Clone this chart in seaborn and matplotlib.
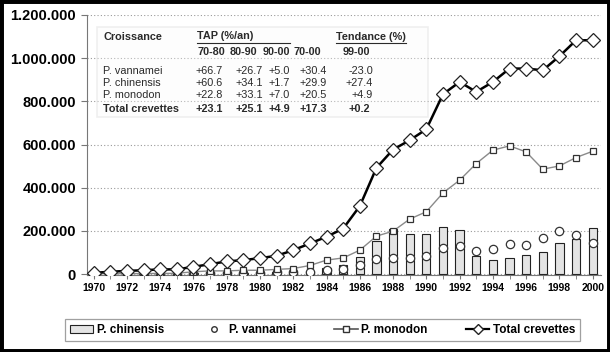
import numpy as np
import pandas as pd
import seaborn as sns
import matplotlib.pyplot as plt
from matplotlib.patches import Rectangle, Patch
from matplotlib.lines import Line2D
from matplotlib.ticker import FuncFormatter, MultipleLocator

years = list(range(1970, 2001))

# production (t)
chinensis = [2000, 2000, 2000, 3000, 3000, 3000, 4000, 5000, 6000, 7000, 8000, 9000, 10000, 15000, 30000,
             40000, 80000, 153000, 208000, 184000, 184000, 219000, 204000, 83000, 65000,
             77000, 88000, 103000, 142000, 165000, 214000]
vannamei = [1000, 1000, 1000, 1000, 2000, 2000, 3000, 4000, 5000, 6000, 7000, 8000, 10000, 12000, 18000,
            26000, 42000, 68000, 73000, 73000, 85000, 119000, 130000, 108000, 117000,
            139000, 136000, 167000, 199000, 181000, 142000]
monodon = [2000, 2000, 2000, 3000, 3000, 4000, 11000, 15000, 15000, 18000, 18000, 22000, 26000, 40000, 65000,
           75000, 111000, 176000, 199000, 255000, 289000, 376000, 435000, 512000, 574000,
           594000, 566000, 486000, 501000, 540000, 569000]
total = [6000, 11000, 15000, 18000, 22000, 22000, 34000, 46000, 59000, 65000, 74000, 85000, 111000, 142000, 173000,
         211000, 315000, 492000, 577000, 620000, 671000, 833000, 890000, 844000, 890000,
         952000, 952000, 944000, 1009000, 1083000, 1083000]

# growth table
table_species = ['P. vannamei', 'P. chinensis', 'P. monodon', 'Total crevettes']
table_periods = ['70-80', '80-90', '90-00', '70-00']
table_trend_period = '99-00'
table_tap = [['+66.7', '+26.7', '+5.0', '+30.4'],
             ['+60.6', '+34.1', '+1.7', '+29.9'],
             ['+22.8', '+33.1', '+7.0', '+20.5'],
             ['+23.1', '+25.1', '+4.9', '+17.3']]
table_trend = ['-23.0', '+27.4', '+4.9', '+0.2']

df = pd.DataFrame({'year': years, 'chinensis': chinensis, 'vannamei': vannamei,
                   'monodon': monodon, 'total': total})

W, H = 610, 352
fig = plt.figure(figsize=(W / 100, H / 100), dpi=100)
plt.rcParams['font.family'] = ['Liberation Sans', 'DejaVu Sans']

def px(x, y):
    return x / W, 1 - y / H

ax = fig.add_axes([87 / W, 1 - 275 / H, 514 / W, 260 / H])

sns.barplot(data=df, x='year', y='chinensis', native_scale=True, width=0.5, color='#e4e4e4',
            edgecolor='#222222', linewidth=0.8, errorbar=None, ax=ax, zorder=2)
sns.scatterplot(data=df, x='year', y='vannamei', marker='o', s=36, facecolor='white',
                edgecolor='#333333', linewidth=0.9, ax=ax, zorder=3)
sns.lineplot(data=df, x='year', y='monodon', color='#8a8a8a', lw=1.0, marker='s', markersize=5,
             markerfacecolor='white', markeredgecolor='#333333', markeredgewidth=0.9, ax=ax, zorder=4)
sns.lineplot(data=df, x='year', y='total', color='black', lw=1.8, marker='D', markersize=7,
             markerfacecolor='white', markeredgecolor='#222222', markeredgewidth=0.9, ax=ax, zorder=5)

ax.set_xlim(1969.6, 2000.5)
ax.set_ylim(-4000, 1200000)
ax.yaxis.set_major_locator(MultipleLocator(200000))
ax.yaxis.set_major_formatter(FuncFormatter(lambda v, p: f'{v:,.0f}'.replace(',', '.')))
ax.xaxis.set_major_locator(MultipleLocator(2))
ax.xaxis.set_minor_locator(MultipleLocator(1))
ax.xaxis.set_major_formatter(FuncFormatter(lambda v, p: f'{int(v)}'))
ax.set_xlabel('')
ax.set_ylabel('')
ax.grid(axis='y', color='#9a9a9a', linestyle=(0, (1, 2)), lw=0.8)
ax.set_axisbelow(True)
for s in ['top', 'right']:
    ax.spines[s].set_visible(False)
for s in ['left', 'bottom']:
    ax.spines[s].set_color('#777777')
    ax.spines[s].set_linewidth(0.8)
ax.tick_params(axis='y', length=4, color='#777777', labelsize=10.5, pad=4)
ax.tick_params(axis='x', which='both', length=3, color='#777777', labelsize=7.5, pad=3)
for t in ax.get_yticklabels() + ax.get_xticklabels():
    t.set_fontweight('bold')

# table box
x0, y0 = px(97, 117)
x1, y1 = px(428, 27)
fig.patches.append(Rectangle((x0, y0), x1 - x0, y1 - y0, transform=fig.transFigure,
                             facecolor='#fafafa', alpha=0.3, edgecolor='#cfcfcf', lw=1.2, zorder=6))
tc = '#2a2a2a'
fs = 7.8

def ttext(x, y, s, **kw):
    fig.text(*px(x, y), s, fontsize=fs, color=tc, va='center', zorder=8, **kw)

ttext(103, 37, 'Croissance', fontweight='bold')
ttext(197, 36, 'TAP (%/an)', fontweight='bold')
ttext(336, 37, 'Tendance (%)', fontweight='bold')
fig.add_artist(Line2D([197 / W, 290 / W], [1 - 42.5 / H] * 2, color=tc, lw=0.8, zorder=8))
fig.add_artist(Line2D([336 / W, 406 / W], [1 - 42.5 / H] * 2, color=tc, lw=0.8, zorder=8))
for xp, lab in zip([197, 230, 263, 294], table_periods):
    ttext(xp, 52, lab, fontweight='bold')
ttext(343, 52, table_trend_period, fontweight='bold')

row_y = [70.5, 82.5, 95.5, 109]
col_r = [223, 263, 290, 327]
for i, sp in enumerate(table_species):
    fw = 'bold' if i == 3 else 'normal'
    ttext(103, row_y[i], sp, fontweight=fw)
    for xr, v in zip(col_r, table_tap[i]):
        ttext(xr, row_y[i], v, fontweight=fw, ha='right')
    ttext(373 if i < 3 else 370, row_y[i], table_trend[i], fontweight=fw, ha='right')

# legend
handles = [Patch(facecolor='#e4e4e4', edgecolor='#222222', lw=0.8),
           Line2D([], [], ls='none', marker='o', ms=4, mfc='white', mec='#333333'),
           Line2D([], [], color='#555555', lw=1.2, marker='s', ms=4.5, mfc='white', mec='#333333'),
           Line2D([], [], color='black', lw=1.6, marker='D', ms=5, mfc='white', mec='#222222')]
labels = ['P. chinensis', 'P. vannamei', 'P. monodon', 'Total crevettes']
lx, ly = px(59, 342)
leg = fig.legend(handles, labels, loc='center', ncol=4, mode='expand',
                 bbox_to_anchor=(lx, ly, 527 / W, 24 / H), bbox_transform=fig.transFigure,
                 frameon=True, fancybox=False, edgecolor='#888888', handlelength=2.0,
                 handletextpad=0.3, prop={'size': 8.5, 'weight': 'bold'}, borderpad=0.4)
leg.get_frame().set_linewidth(0.9)

# black outer frame
fig.patches.append(Rectangle((0, 0), 1, 1, transform=fig.transFigure, fill=False,
                             edgecolor='black', lw=5, zorder=10))

fig.savefig('out.png', dpi=100)
